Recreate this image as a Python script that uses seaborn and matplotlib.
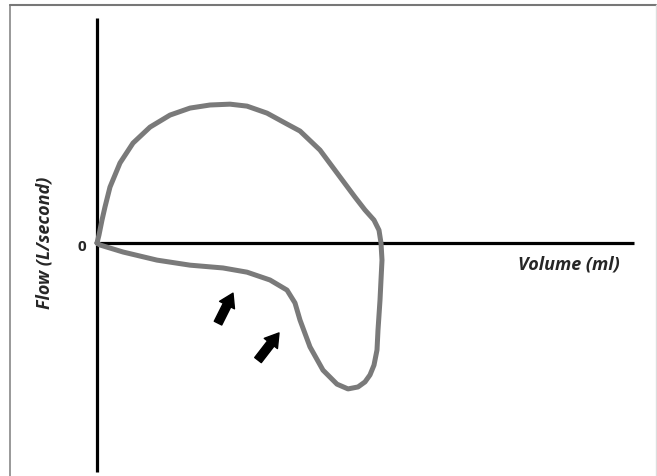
import matplotlib
matplotlib.use('Agg')
import matplotlib.pyplot as plt
import seaborn as sns
import pandas as pd
from matplotlib.lines import Line2D

# Curva fluxo-volume (volume em ml, fluxo em L/s), percorrida no sentido horário
volume = [0, 20, 50, 80, 130, 230, 360, 530, 730, 930, 1130, 1330, 1500, 1700,
          1900, 2030, 2230, 2430, 2580, 2680, 2770, 2820, 2840, 2850, 2840, 2830,
          2810, 2800, 2770, 2730, 2680, 2610, 2510, 2400, 2260, 2130, 2030, 1980,
          1900, 1730, 1500, 1260, 930, 600, 260, 30, 0]
fluxo = [0, 0.29, 0.82, 1.29, 2.00, 2.86, 3.57, 4.14, 4.57, 4.82, 4.93, 4.96, 4.89,
         4.64, 4.25, 4.00, 3.32, 2.36, 1.64, 1.18, 0.82, 0.46, 0, -0.61, -1.32,
         -2.04, -3.11, -3.82, -4.36, -4.71, -4.96, -5.14, -5.21, -5.04, -4.54,
         -3.71, -2.75, -2.14, -1.68, -1.32, -1.04, -0.89, -0.79, -0.61, -0.32,
         -0.07, 0]

# Setas (cauda -> ponta)
setas_inicio = [(1210, -2.86), (1610, -4.18)]
setas_fim = [(1360, -1.79), (1820, -3.21)]

df = pd.DataFrame({'Volume': volume, 'Fluxo': fluxo})

sns.set_style('white')
plt.rcParams['font.family'] = ['Open Sans', 'DejaVu Sans']

fig = plt.figure(figsize=(6.57, 4.76), dpi=100)
ax = fig.add_axes([0, 0, 1, 1])
ax.set_xlim(-970, 5600)
ax.set_ylim(-8.32, 8.68)
ax.axis('off')

# Eixos desenhados à mão
ax.plot([0, 0], [-8.18, 8.04], color='black', lw=2.3, solid_capstyle='butt')
ax.plot([-10, 5370], [0, 0], color='black', lw=2.3, solid_capstyle='butt')

sns.lineplot(data=df, x='Volume', y='Fluxo', sort=False, estimator=None,
             color='#7a7a7a', lw=3.6, ax=ax)
ax.lines[-1].set_solid_joinstyle('round')
ax.lines[-1].set_solid_capstyle('round')

for ini, fim in zip(setas_inicio, setas_fim):
    ax.annotate('', xy=fim, xytext=ini,
                arrowprops=dict(arrowstyle='simple,head_length=0.8,head_width=1.0,tail_width=0.5',
                                mutation_scale=12, color='black', shrinkA=0, shrinkB=0))

ax.text(-155, -0.13, '0', fontsize=11, fontweight='bold', ha='center', va='center')
ax.text(4720, -0.75, 'Volume (ml)', fontsize=13, fontweight='bold', style='italic',
        ha='center', va='center')
ax.text(-530, 0, 'Flow (L/second)', fontsize=13, fontweight='bold', style='italic',
        rotation=90, ha='center', va='center')

# Moldura da imagem
W, H = 657, 476
fig.add_artist(Line2D([10 / W, 10 / W], [0, 1 - 5 / H], color='#888888', lw=1.2))
fig.add_artist(Line2D([10 / W, 656 / W], [1 - 5 / H, 1 - 5 / H], color='#777777', lw=1.5))
fig.add_artist(Line2D([656 / W, 656 / W], [0, 1 - 5 / H], color='#dddddd', lw=1.0))

plt.savefig('out.png', dpi=100)
